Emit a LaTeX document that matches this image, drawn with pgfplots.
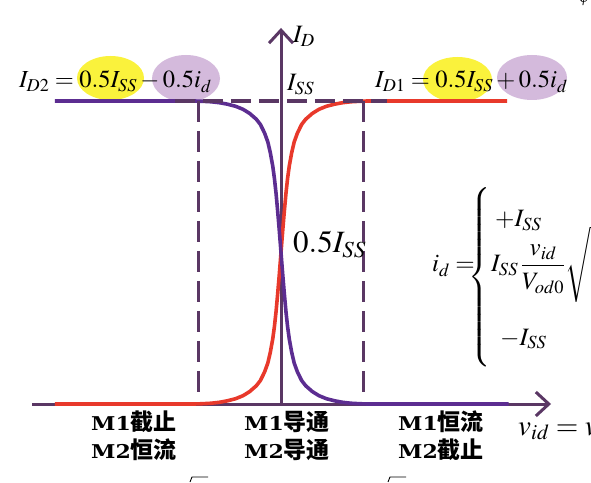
\documentclass[border=0pt]{standalone}
\usepackage{amsmath}
\usepackage{mathptmx}
\usepackage{fontspec}
\setmainfont{Liberation Serif}
\newfontfamily\cjk{Noto Sans CJK SC}
\newfontfamily\mfont{DejaVu Serif}
\usepackage{graphicx}
\usepackage{pgfplots}
\pgfplotsset{compat=1.18}
\usetikzlibrary{arrows.meta}
\definecolor{axcol}{RGB}{90,55,100}
\definecolor{pcurve}{RGB}{92,45,145}
\definecolor{rcurve}{RGB}{232,57,43}
\definecolor{hlyellow}{RGB}{250,242,60}
\definecolor{hlpurple}{RGB}{212,186,220}
\newcommand{\fs}[1]{\fontsize{#1}{#1}\selectfont}
\newcommand{\reg}[2]{\scalebox{1.16}[1]{\fs{19}\mfont\bfseries #1}{\fs{23}\cjk\bfseries #2}}
\begin{document}
\begin{tikzpicture}
% highlight ellipses (behind everything)
\fill[hlyellow] (110.5pt,404pt) ellipse [x radius=33.5pt, y radius=22pt];
\fill[hlpurple] (186pt,403.5pt) ellipse [x radius=34pt, y radius=23.5pt];
\fill[hlyellow] (457.5pt,402.5pt) ellipse [x radius=34.5pt, y radius=22.5pt];
\fill[hlpurple] (532pt,404.5pt) ellipse [x radius=35pt, y radius=22.5pt];
\begin{axis}[name=ax, scale only axis, width=591pt, height=482pt,
  xmin=-3.4061, xmax=3.7576, ymin=-0.2574, ymax=1.3333,
  hide axis, clip=false]
% axes
\draw[axcol, line width=3pt, -{Straight Barb[length=13pt, width=24pt, line width=3pt]}] (axis cs:-3.018,0) -- (axis cs:3.273,0);
\draw[axcol, line width=3pt, -{Straight Barb[length=13pt, width=24pt, line width=3pt]}] (axis cs:0,0) -- (axis cs:0,1.241);
% I_D1 (red)
\addplot[rcurve, line width=3.6pt, line join=round] coordinates {
(-2.74,0) (-1.05,0) (-0.95,0.001) (-0.85,0.0025) (-0.75,0.0055) (-0.65,0.0105) (-0.55,0.0175) (-0.46,0.0275) (-0.38,0.041) (-0.30,0.06) (-0.25,0.0775) (-0.20,0.105) (-0.16,0.135) (-0.13,0.17) (-0.10,0.215) (-0.08,0.255) (-0.06,0.305) (-0.04,0.365) (-0.02,0.43) (0,0.5) (0.02,0.57) (0.04,0.635) (0.06,0.695) (0.08,0.745) (0.10,0.785) (0.13,0.83) (0.16,0.865) (0.20,0.895) (0.25,0.9225) (0.30,0.94) (0.38,0.959) (0.46,0.9725) (0.55,0.9825) (0.65,0.9895) (0.75,0.9945) (0.85,0.9975) (0.95,0.999) (1.05,1) (2.74,1)};
% I_D2 (purple)
\addplot[pcurve, line width=3.6pt, line join=round] coordinates {
(-2.74,1) (-1.05,1) (-0.95,0.999) (-0.85,0.9975) (-0.75,0.9945) (-0.65,0.9895) (-0.55,0.9825) (-0.46,0.9725) (-0.38,0.959) (-0.30,0.94) (-0.25,0.9225) (-0.20,0.895) (-0.16,0.865) (-0.13,0.83) (-0.10,0.785) (-0.08,0.745) (-0.06,0.695) (-0.04,0.635) (-0.02,0.57) (0,0.5) (0.02,0.43) (0.04,0.365) (0.06,0.305) (0.08,0.255) (0.10,0.215) (0.13,0.17) (0.16,0.135) (0.20,0.105) (0.25,0.0775) (0.30,0.06) (0.38,0.041) (0.46,0.0275) (0.55,0.0175) (0.65,0.0105) (0.75,0.0055) (0.85,0.0025) (0.95,0.001) (1.05,0) (2.76,0)};
% dashed guide lines
\addplot[axcol, line width=3.5pt, dash pattern=on 20pt off 8pt] coordinates {(-1.285,1) (1.285,1)};
\addplot[axcol, line width=3.5pt, dash pattern=on 21pt off 9pt] coordinates {(-1,1) (-1,0.036)};
\addplot[axcol, line width=3.5pt, dash pattern=on 21pt off 9pt] coordinates {(1,1) (1,0.036)};
\end{axis}
% labels
\node[anchor=base west, inner sep=0] at (19pt,394pt) {\fs{24.5}$I_{D2}=0.5I_{SS}-0.5i_d$};
\node[anchor=base west, inner sep=0] at (375pt,394pt) {\fs{24.5}$I_{D1}=0.5I_{SS}+0.5i_d$};
\node[anchor=base west, inner sep=0] at (293pt,439pt) {\fs{25}$I_D$};
\node[anchor=base west, inner sep=0] at (287pt,391pt) {\fs{25}$I_{SS}$};
\node[anchor=base west, inner sep=0] at (293pt,229pt) {\fs{31}$0.5I_{SS}$};
% region labels
\node[anchor=base, inner sep=0] at (134pt,52pt) {\reg{M1}{截止}};
\node[anchor=base, inner sep=0] at (134pt,24pt) {\reg{M2}{恒流}};
\node[anchor=base, inner sep=0] at (287pt,52pt) {\reg{M1}{导通}};
\node[anchor=base, inner sep=0] at (287pt,24pt) {\reg{M2}{导通}};
\node[anchor=base, inner sep=0] at (441pt,52pt) {\reg{M1}{恒流}};
\node[anchor=base, inner sep=0] at (441pt,24pt) {\reg{M2}{截止}};
\node[anchor=base west, inner sep=0] at (518pt,47pt) {\fs{29}$v_{id}=v$};
% piecewise i_d
\node[anchor=base west, inner sep=0] at (432pt,210pt) {\fs{25}$i_d=$};
\node[anchor=west, inner sep=0] at (468pt,204.5pt) {\fs{25}$\left\{\vrule height 84pt depth 84pt width 0pt\right.$};
\node[anchor=base west, inner sep=0] at (495pt,255pt) {\fs{25}$+I_{SS}$};
\node[anchor=base west, inner sep=0] at (491pt,210pt) {\fs{25}$I_{SS}\,\dfrac{v_{id}}{V_{od0}}\sqrt{1-\dfrac{v_{id}^2}{4V_{od0}^2}}$};
\node[anchor=base west, inner sep=0] at (500pt,137pt) {\fs{25}$-I_{SS}$};
\node[anchor=base west, inner sep=0] at (579pt,479pt) {\fs{14}$\varphi$};
% tops of radicals cut by the lower edge
\draw[line width=0.9pt] (190pt,0pt) -- (192pt,5pt) -- (208pt,5pt);
\draw[line width=0.9pt] (388pt,0pt) -- (390pt,5pt) -- (406pt,5pt);
\pgfresetboundingbox
\useasboundingbox (0pt,0pt) rectangle (591pt,482pt);
\end{tikzpicture}
\end{document}
